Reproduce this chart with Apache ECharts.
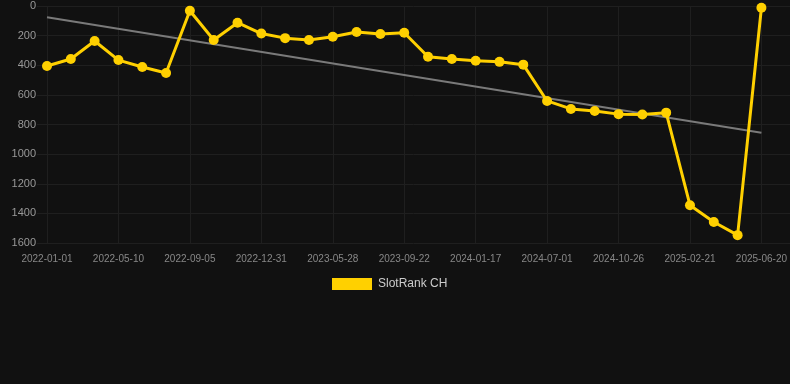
<!DOCTYPE html>
<html>
<head>
<meta charset="utf-8">
<script src="https://cdn.jsdelivr.net/npm/echarts@6/dist/echarts.min.js"></script>
<style>
html,body{margin:0;padding:0;background:#111111;}
#c{width:790px;height:384px;}
</style>
</head>
<body>
<div id="c"></div>
<script>
var categories = [
  '2022-01-01','2022-02-13','2022-03-28','2022-05-10','2022-06-18','2022-07-27',
  '2022-09-05','2022-10-14','2022-11-22','2022-12-31','2023-02-18','2023-04-08',
  '2023-05-28','2023-07-05','2023-08-13','2023-09-22','2023-10-31','2023-12-09',
  '2024-01-17','2024-03-10','2024-05-05','2024-07-01','2024-08-08','2024-09-17',
  '2024-10-26','2024-12-03','2025-01-12','2025-02-21','2025-04-01','2025-05-11',
  '2025-06-20'
];
var rankValues = [
  405, 358, 236, 365, 412, 452,
  32, 230, 113, 186, 217, 230,
  208, 176, 189, 181, 343, 358,
  370, 377, 396, 641, 695, 709,
  730, 732, 720, 1345, 1458, 1547,
  12
];
var trendStart = 76;
var trendEnd = 855;
var yTicks = [0, 200, 400, 600, 800, 1000, 1200, 1400, 1600];

var chart = echarts.init(document.getElementById('c'), null, {renderer: 'canvas'});
var font = 'Liberation Sans, Arial, Helvetica, sans-serif';
var lastIdx = categories.length - 1;

chart.setOption({
  backgroundColor: '#111111',
  animation: false,
  textStyle: {fontFamily: font},
  legend: {
    data: ['SlotRank CH'],
    top: 273,
    left: 327,
    icon: 'rect',
    itemWidth: 40,
    itemHeight: 12,
    itemGap: 10,
    textStyle: {color: '#cccccc', fontSize: 12, fontFamily: font, padding: [0, 0, 0, 1]}
  },
  grid: [
    {left: 37, right: 0, top: 6, bottom: 141, containLabel: false},
    {left: 47, right: 28, top: 6, bottom: 141, containLabel: false}
  ],
  xAxis: [
    {gridIndex: 0, type: 'category', data: categories, show: false},
    {
      gridIndex: 1, type: 'category', data: categories, boundaryGap: false,
      axisLine: {show: false},
      axisTick: {show: true, interval: 2, length: 5, lineStyle: {color: '#1f1f1f'}},
      axisLabel: {interval: 2, color: '#888888', fontSize: 10, margin: 11, fontFamily: font},
      splitLine: {show: true, interval: 2, lineStyle: {color: '#1f1f1f', width: 1}}
    }
  ],
  yAxis: [
    {
      gridIndex: 0, type: 'value', inverse: true, min: yTicks[0], max: yTicks[yTicks.length - 1], interval: 200,
      axisLine: {show: false}, axisTick: {show: false},
      axisLabel: {color: '#999999', fontSize: 11, margin: 1, fontFamily: font,
        formatter: function (v) { return String(v); }},
      splitLine: {show: true, lineStyle: {color: '#1f1f1f', width: 1}}
    },
    {
      gridIndex: 1, type: 'value', inverse: true, min: yTicks[0], max: yTicks[yTicks.length - 1], interval: 200,
      show: false, splitLine: {show: false}
    }
  ],
  series: [
    {
      name: 'Trend',
      type: 'line',
      xAxisIndex: 1, yAxisIndex: 1,
      data: [[0, trendStart], [lastIdx, trendEnd]],
      symbol: 'none',
      lineStyle: {color: '#7a7a7a', width: 2},
      z: 2,
      silent: true
    },
    {
      name: 'SlotRank CH',
      type: 'line',
      xAxisIndex: 1, yAxisIndex: 1,
      data: rankValues,
      symbol: 'circle',
      symbolSize: 10,
      itemStyle: {color: '#FFD000'},
      lineStyle: {color: '#FFD000', width: 3},
      z: 3
    }
  ]
});
</script>
</body>
</html>
